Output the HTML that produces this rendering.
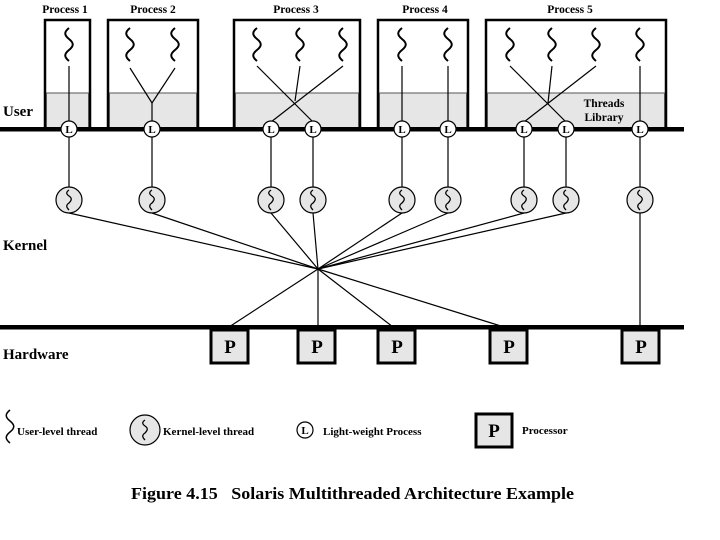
<!DOCTYPE html>
<html><head><meta charset="utf-8"><style>
html,body{margin:0;padding:0;background:#fff}
svg{display:block}
text{font-family:"Liberation Serif",serif;font-weight:bold;fill:#000}
</style></head><body>
<svg width="720" height="540" viewBox="0 0 720 540" xmlns="http://www.w3.org/2000/svg">
<defs>
<path id="w" d="M0,0 c-5,4 -5,7 0,11 c5,4 5,7 0,11 c-5,4 -5,7 0,11" fill="none" stroke="#000" stroke-width="2"/>
<path id="kw" d="M0,-10 c-3,2 -3,4 0,6 c3,2 3,4 0,7 c-3,2 -3,4 0,7" fill="none" stroke="#000" stroke-width="1.3"/>
</defs>
<g stroke="#000" stroke-width="2.5">
<rect x="45" y="20" width="45" height="108" fill="#fff"/>
<rect x="108" y="20" width="90" height="108" fill="#fff"/>
<rect x="234" y="20" width="126" height="108" fill="#fff"/>
<rect x="378" y="20" width="90" height="108" fill="#fff"/>
<rect x="486" y="20" width="180" height="108" fill="#fff"/>
</g>
<g fill="#e6e6e6" stroke="#555" stroke-width="1">
<rect x="46.5" y="93" width="42" height="35"/>
<rect x="109.5" y="93" width="87" height="35"/>
<rect x="235.5" y="93" width="123" height="35"/>
<rect x="379.5" y="93" width="87" height="35"/>
<rect x="487.5" y="93" width="177" height="35"/>
</g>
<g font-size="11.5" text-anchor="middle">
<text x="65" y="13">Process 1</text>
<text x="153" y="13">Process 2</text>
<text x="296" y="13">Process 3</text>
<text x="425" y="13">Process 4</text>
<text x="570" y="13">Process 5</text>
<text x="604" y="107">Threads</text>
<text x="604" y="121">Library</text>
</g>
<g>
<use href="#w" x="69" y="28"/>
<use href="#w" x="130" y="28"/><use href="#w" x="175" y="28"/>
<use href="#w" x="257" y="28"/><use href="#w" x="300" y="28"/><use href="#w" x="343" y="28"/>
<use href="#w" x="402" y="28"/><use href="#w" x="448" y="28"/>
<use href="#w" x="510" y="28"/><use href="#w" x="552" y="28"/><use href="#w" x="596" y="28"/><use href="#w" x="640" y="28"/>
</g>
<g stroke="#000" stroke-width="1.2" fill="none">
<line x1="69" y1="66" x2="69" y2="200"/>
<polyline points="130,68 152,103 175,68"/><line x1="152" y1="103" x2="152" y2="200"/>
<line x1="257" y1="66" x2="313" y2="122"/><line x1="343" y1="66" x2="271" y2="122"/><line x1="300" y1="66" x2="295" y2="101"/>
<line x1="271" y1="122" x2="271" y2="200"/><line x1="313" y1="122" x2="313" y2="200"/>
<line x1="402" y1="66" x2="402" y2="200"/><line x1="448" y1="66" x2="448" y2="200"/>
<line x1="510" y1="66" x2="566" y2="122"/><line x1="596" y1="66" x2="524" y2="122"/><line x1="552" y1="66" x2="548" y2="103"/>
<line x1="524" y1="122" x2="524" y2="200"/><line x1="566" y1="122" x2="566" y2="200"/>
<line x1="640" y1="66" x2="640" y2="330"/>
<line x1="69" y1="213" x2="318" y2="269"/>
<line x1="152" y1="213" x2="318" y2="269"/>
<line x1="271" y1="213" x2="318" y2="269"/>
<line x1="313" y1="213" x2="318" y2="269"/>
<line x1="402" y1="213" x2="318" y2="269"/>
<line x1="448" y1="213" x2="318" y2="269"/>
<line x1="524" y1="213" x2="318" y2="269"/>
<line x1="566" y1="213" x2="318" y2="269"/>
<line x1="318" y1="269" x2="229" y2="327"/>
<line x1="318" y1="269" x2="318" y2="327"/>
<line x1="318" y1="269" x2="393" y2="327"/>
<line x1="318" y1="269" x2="504" y2="327"/>
</g>
<rect x="0" y="127" width="684" height="4.5" fill="#000"/>
<rect x="0" y="325" width="684" height="4.5" fill="#000"/>
<g font-size="11" text-anchor="middle">
<g stroke="#000" stroke-width="1.2" fill="#fff">
<circle cx="69" cy="129" r="8"/><circle cx="152" cy="129" r="8"/><circle cx="271" cy="129" r="8"/><circle cx="313" cy="129" r="8"/><circle cx="402" cy="129" r="8"/><circle cx="448" cy="129" r="8"/><circle cx="524" cy="129" r="8"/><circle cx="566" cy="129" r="8"/><circle cx="640" cy="129" r="8"/>
</g>
<text x="69" y="133">L</text><text x="152" y="133">L</text><text x="271" y="133">L</text><text x="313" y="133">L</text><text x="402" y="133">L</text><text x="448" y="133">L</text><text x="524" y="133">L</text><text x="566" y="133">L</text><text x="640" y="133">L</text>
</g>
<g stroke="#000" stroke-width="1.2" fill="#e6e6e6">
<circle cx="69" cy="200" r="13"/><circle cx="152" cy="200" r="13"/><circle cx="271" cy="200" r="13"/><circle cx="313" cy="200" r="13"/><circle cx="402" cy="200" r="13"/><circle cx="448" cy="200" r="13"/><circle cx="524" cy="200" r="13"/><circle cx="566" cy="200" r="13"/><circle cx="640" cy="200" r="13"/>
</g>
<use href="#kw" x="69" y="200"/><use href="#kw" x="152" y="200"/><use href="#kw" x="271" y="200"/><use href="#kw" x="313" y="200"/><use href="#kw" x="402" y="200"/><use href="#kw" x="448" y="200"/><use href="#kw" x="524" y="200"/><use href="#kw" x="566" y="200"/><use href="#kw" x="640" y="200"/>
<g stroke="#000" stroke-width="3" fill="#e6e6e6">
<rect x="211" y="330" width="37" height="33"/>
<rect x="298" y="330" width="37" height="33"/>
<rect x="378" y="330" width="37" height="33"/>
<rect x="490" y="330" width="37" height="33"/>
<rect x="622" y="330" width="37" height="33"/>
</g>
<g font-size="19" text-anchor="middle">
<text x="230" y="353">P</text><text x="317" y="353">P</text><text x="397" y="353">P</text><text x="509" y="353">P</text><text x="641" y="353">P</text>
</g>
<g font-size="15">
<text x="3" y="116">User</text>
<text x="3" y="250">Kernel</text>
<text x="3" y="359">Hardware</text>
</g>
<path d="M10,410 c-5,4 -5,7 0,11 c5,4 5,7 0,11 c-5,4 -5,7 0,11" fill="none" stroke="#000" stroke-width="1.5"/>
<g font-size="11">
<text x="17" y="435">User-level thread</text>
<circle cx="145" cy="430" r="15" fill="#e6e6e6" stroke="#000" stroke-width="1.2"/>
<use href="#kw" x="145" y="430"/>
<text x="163" y="435">Kernel-level thread</text>
<circle cx="305" cy="430" r="8" fill="#fff" stroke="#000" stroke-width="1.2"/>
<text x="305" y="434" text-anchor="middle">L</text>
<text x="323" y="435">Light-weight Process</text>
<rect x="476" y="414" width="36" height="33" fill="#e6e6e6" stroke="#000" stroke-width="3"/>
<text x="494" y="437" font-size="19" text-anchor="middle">P</text>
<text x="522" y="434">Processor</text>
</g>
<text x="131" y="499" font-size="17" textLength="443" lengthAdjust="spacingAndGlyphs" xml:space="preserve">Figure 4.15   Solaris Multithreaded Architecture Example</text>
</svg>
</body></html>
